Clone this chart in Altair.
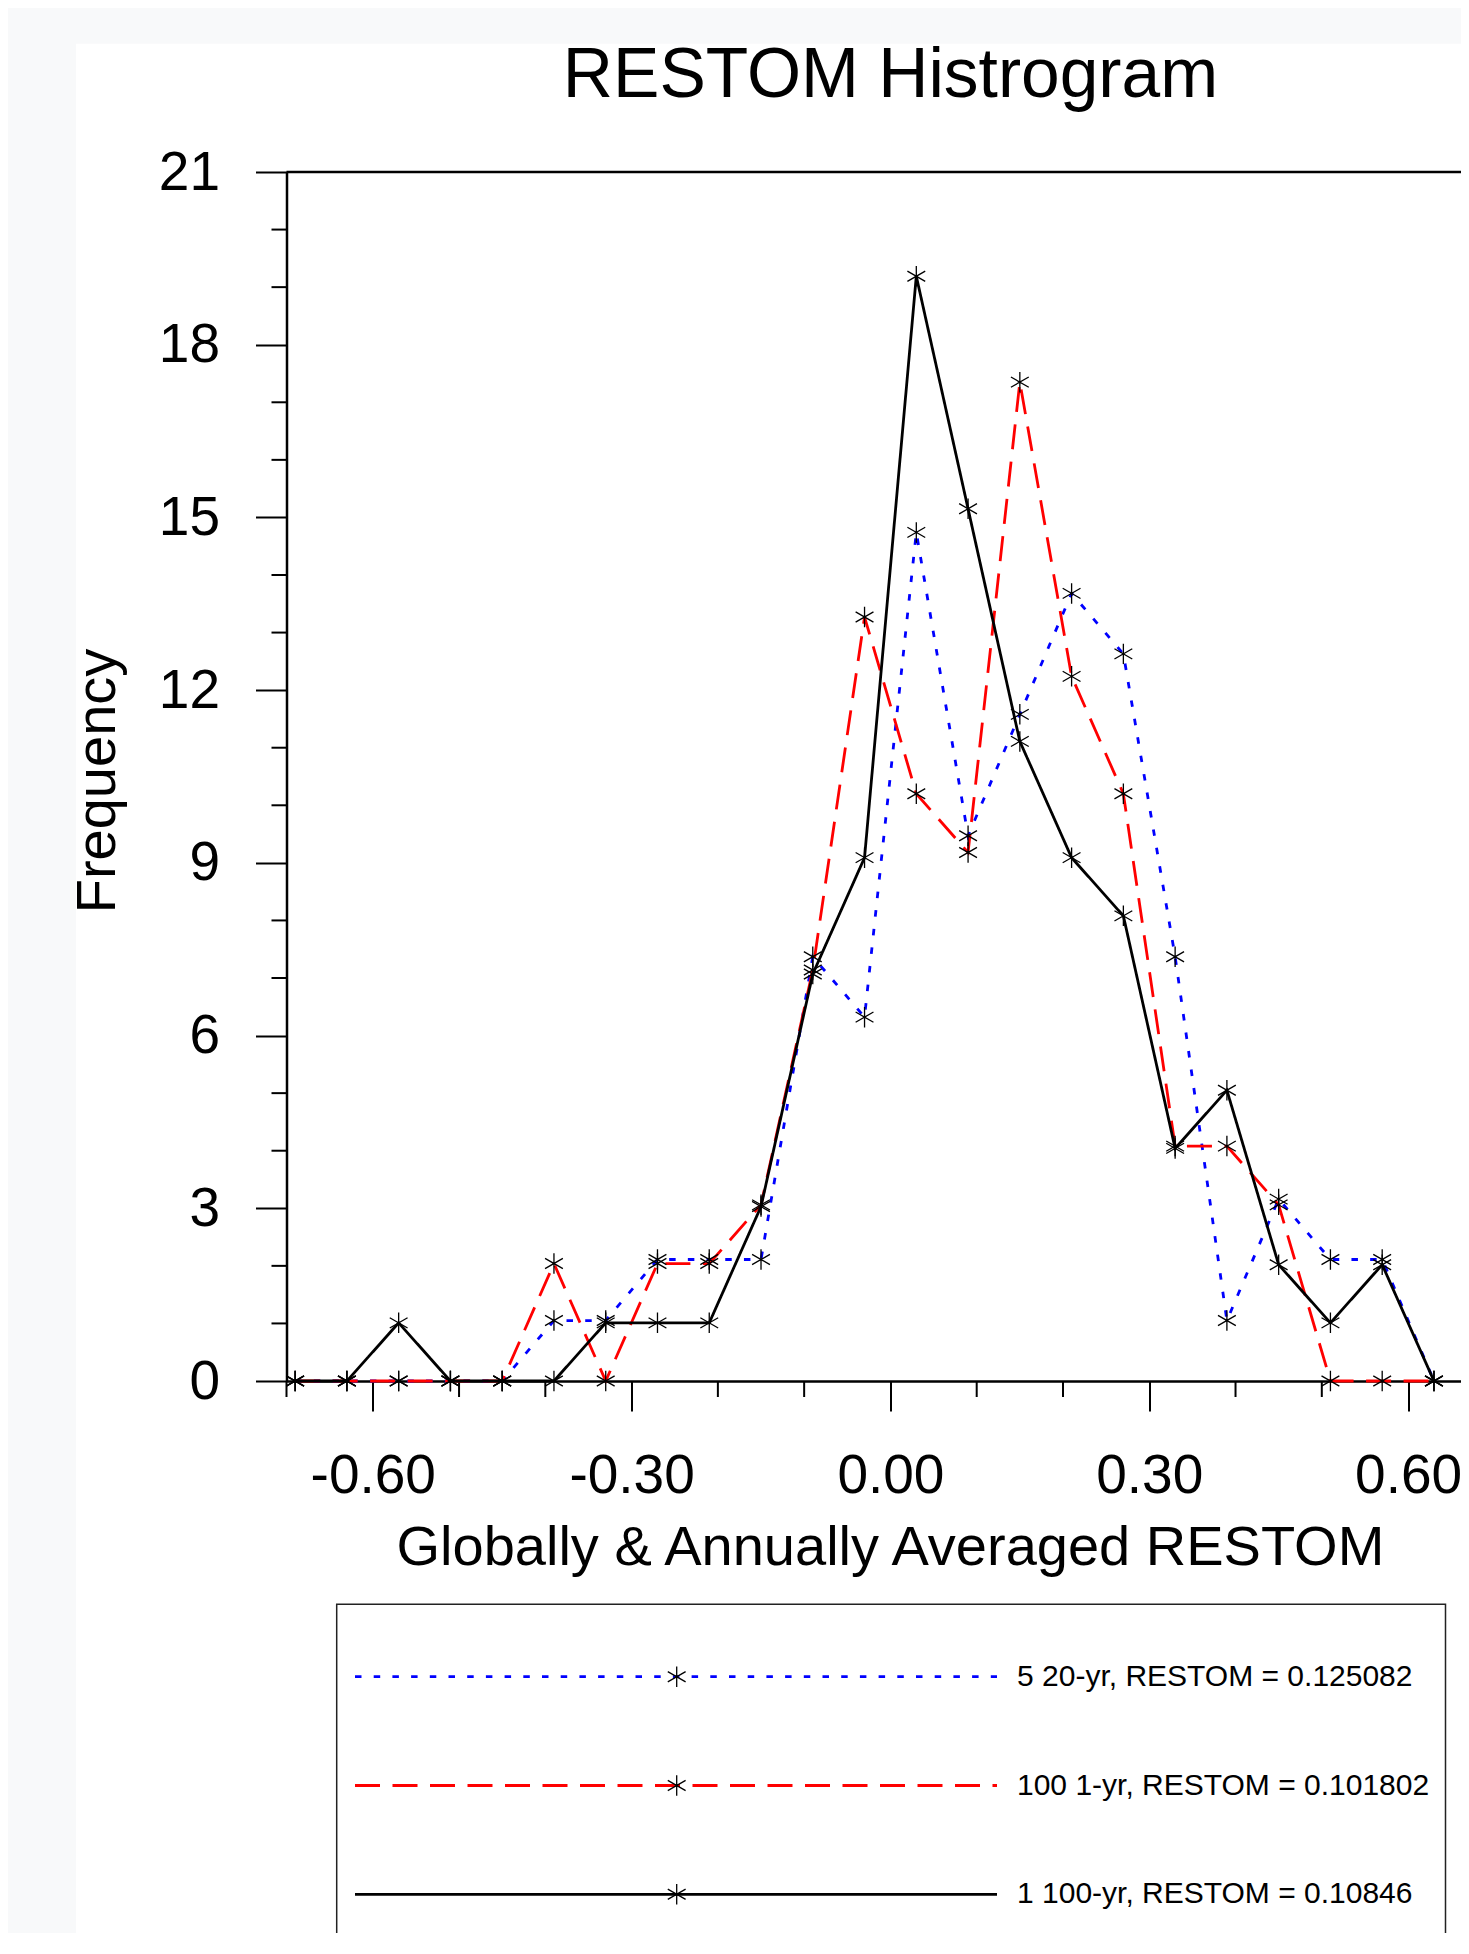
import altair as alt
import pandas as pd

# ---------------- data ----------------
bin_centers = [-0.69, -0.63, -0.57, -0.51, -0.45, -0.39, -0.33, -0.27, -0.21, -0.15,
               -0.09, -0.03, 0.03, 0.09, 0.15, 0.21, 0.27, 0.33, 0.39, 0.45, 0.51, 0.57, 0.63]
freq_5x20yr = [0, 0, 0, 0, 0, 1.05, 1.05, 2.11, 2.11, 2.11, 7.37, 6.32, 14.74, 9.47,
               11.58, 13.68, 12.63, 7.37, 1.05, 3.16, 2.11, 2.11, 0]
freq_100x1yr = [0, 0, 0, 0, 0, 2.04, 0, 2.04, 2.04, 3.06, 7.14, 13.27, 10.20, 9.18,
                17.35, 12.24, 10.20, 4.08, 4.08, 3.06, 0, 0, 0]
freq_1x100yr = [0, 0, 1.01, 0, 0, 0, 1.01, 1.01, 1.01, 3.03, 7.07, 9.09, 19.19, 15.15,
                11.11, 9.09, 8.08, 4.04, 5.05, 2.02, 1.01, 2.02, 0]
series_names = ["5 20-yr", "100 1-yr", "1 100-yr"]
legend_labels = ["5 20-yr, RESTOM = 0.125082",
                 "100 1-yr, RESTOM = 0.101802",
                 "1 100-yr, RESTOM = 0.10846"]
series_colors = ["#0000ff", "#ff0000", "#000000"]
series_dashes = [[6.5, 12.2], [25, 12.5], [1, 0]]
x_major_ticks = [-0.6, -0.3, 0.0, 0.3, 0.6]
x_minor_ticks = [-0.7, -0.5, -0.4, -0.2, -0.1, 0.1, 0.2, 0.4, 0.5, 0.7]
y_major_ticks = [0, 3, 6, 9, 12, 15, 18, 21]
y_minor_ticks = [1, 2, 4, 5, 7, 8, 10, 11, 13, 14, 16, 17, 19, 20]
title_text = "RESTOM Histrogram"
x_title_text = "Globally & Annually Averaged RESTOM"
y_title_text = "Frequency"

# ---------------- layout ----------------
FONT = "Liberation Sans"
PAGE = 8
PLOT_LEFT_PX = 286.5
PLOT_TOP_PX = 172.0
PLOT_BOTTOM_PX = 1381.0
SVG_W = 1453
SVG_H = 1925
W = SVG_W + PAGE - PLOT_LEFT_PX
H = PLOT_BOTTOM_PX - PLOT_TOP_PX
X_MIN = -0.70
PX_PER_X = 862.75
X_MAX = X_MIN + W / PX_PER_X


def gx(px):
    return px - PLOT_LEFT_PX


def gy(py):
    return py - PLOT_TOP_PX


ASTERISK = "M0,-1L0,1M-0.87,-0.5L0.87,0.5M-0.87,0.5L0.87,-0.5"
GRAY = "#f8f9fa"

x_scale = alt.Scale(domain=[X_MIN, X_MAX], nice=False, zero=False)
y_scale = alt.Scale(domain=[0, 21], nice=False, zero=False)
color_scale = alt.Scale(domain=series_names, range=series_colors)
dash_scale = alt.Scale(domain=series_names, range=series_dashes)

frames = []
for name, vals in zip(series_names, [freq_5x20yr, freq_100x1yr, freq_1x100yr]):
    frames.append(pd.DataFrame({"x": bin_centers, "freq": vals, "series": name}))
df = pd.concat(frames, ignore_index=True)

single = pd.DataFrame({"k": [0]})

x_axis = alt.Axis(values=x_major_ticks, title=None, grid=False,
                  tickSize=30, tickWidth=2, tickColor="black",
                  domainColor="black", domainWidth=2.5,
                  labelFont=FONT, labelFontSize=55, labelColor="black",
                  labelPadding=38, labelFlush=False, labelOverlap=False,
                  labelExpr="datum.value < 0 ? '-' + format(abs(datum.value), '.2f') : format(datum.value, '.2f')")
y_axis = alt.Axis(values=y_major_ticks, title=None, grid=False,
                  tickSize=31, tickWidth=2, tickColor="black",
                  domainColor="black", domainWidth=2.5,
                  labelFont=FONT, labelFontSize=55, labelColor="black",
                  labelPadding=36, labelFlush=False, labelOverlap=False, format="d")

layers = []

# page-like light gray strips (left and top)
layers.append(alt.Chart(single).mark_rect(color=GRAY).encode(
    x=alt.value(gx(PAGE)), x2=alt.value(gx(76)),
    y=alt.value(gy(PAGE)), y2=alt.value(H + 800)))
layers.append(alt.Chart(single).mark_rect(color=GRAY).encode(
    x=alt.value(gx(PAGE)), x2=alt.value(W + 20),
    y=alt.value(gy(PAGE)), y2=alt.value(gy(43.7))))

# top frame line
layers.append(alt.Chart(single).mark_rule(color="black", strokeWidth=2.5).encode(
    x=alt.value(0), x2=alt.value(W + 40), y=alt.value(0)))

# minor ticks
layers.append(alt.Chart(pd.DataFrame({"t": x_minor_ticks})).mark_rule(
    color="black", strokeWidth=2).encode(
    x=alt.X("t:Q", scale=x_scale, axis=x_axis),
    y=alt.value(H), y2=alt.value(H + 16)))
layers.append(alt.Chart(pd.DataFrame({"t": y_minor_ticks})).mark_rule(
    color="black", strokeWidth=2).encode(
    y=alt.Y("t:Q", scale=y_scale, axis=y_axis),
    x=alt.value(-15), x2=alt.value(0)))

# lines (drawn in legend order)
for name in series_names:
    layers.append(alt.Chart(df).transform_filter(alt.datum.series == name).mark_line(
        strokeWidth=2.8).encode(
        x=alt.X("x:Q", scale=x_scale, axis=x_axis),
        y=alt.Y("freq:Q", scale=y_scale, axis=y_axis),
        color=alt.Color("series:N", scale=color_scale, legend=None),
        strokeDash=alt.StrokeDash("series:N", scale=dash_scale, legend=None)))

# markers
layers.append(alt.Chart(df).mark_point(shape=ASTERISK, filled=False, size=420,
                                       strokeWidth=1.3, color="black", opacity=1).encode(
    x=alt.X("x:Q", scale=x_scale, axis=x_axis),
    y=alt.Y("freq:Q", scale=y_scale, axis=y_axis)))

# titles
layers.append(alt.Chart(single).mark_text(text=title_text, font=FONT, fontSize=69.5,
                                          color="black", align="center",
                                          baseline="alphabetic").encode(
    x=alt.X(datum=0, type="quantitative", scale=x_scale, axis=x_axis),
    y=alt.value(gy(97))))
layers.append(alt.Chart(single).mark_text(text=x_title_text, font=FONT, fontSize=56,
                                          color="black", align="center",
                                          baseline="alphabetic").encode(
    x=alt.X(datum=0, type="quantitative", scale=x_scale, axis=x_axis),
    y=alt.value(gy(1565))))
layers.append(alt.Chart(single).mark_text(text=y_title_text, font=FONT, fontSize=56,
                                          color="black", align="center",
                                          baseline="alphabetic", angle=270).encode(
    x=alt.value(gx(115)), y=alt.value(gy(781))))

# legend box
layers.append(alt.Chart(single).mark_rect(fill="white", stroke="#222222",
                                          strokeWidth=1.5).encode(
    x=alt.value(gx(336.7)), x2=alt.value(gx(1445.5)),
    y=alt.value(gy(1604.3)), y2=alt.value(H + 900)))

LEG_ROW0 = 1676.7
LEG_STEP = 108.8
for i, (name, lab) in enumerate(zip(series_names, legend_labels)):
    row = pd.DataFrame({"series": [name], "label": [lab]})
    ypix = gy(LEG_ROW0 + i * LEG_STEP)
    layers.append(alt.Chart(row).mark_rule(strokeWidth=2.8).encode(
        x=alt.value(gx(355)), x2=alt.value(gx(997)), y=alt.value(ypix),
        color=alt.Color("series:N", scale=color_scale, legend=None),
        strokeDash=alt.StrokeDash("series:N", scale=dash_scale, legend=None)))
    layers.append(alt.Chart(row).mark_point(shape=ASTERISK, filled=False, size=420,
                                            strokeWidth=1.3, color="black", opacity=1).encode(
        x=alt.value(gx(676.7)), y=alt.value(ypix)))
    layers.append(alt.Chart(row).mark_text(font=FONT, fontSize=30, color="black",
                                           align="left", baseline="middle").encode(
        x=alt.value(gx(1017)), y=alt.value(ypix), text="label:N"))

chart = alt.layer(*layers).properties(
    width=W, height=H,
    autosize=alt.AutoSizeParams(type="none"),
    padding={"left": PLOT_LEFT_PX - PAGE, "top": PLOT_TOP_PX - PAGE,
             "right": 0, "bottom": SVG_H - (PLOT_TOP_PX - PAGE) - H},
    background="white",
).configure_view(stroke="transparent")

chart.save("out.html", embed_options={"renderer": "svg", "actions": False})
